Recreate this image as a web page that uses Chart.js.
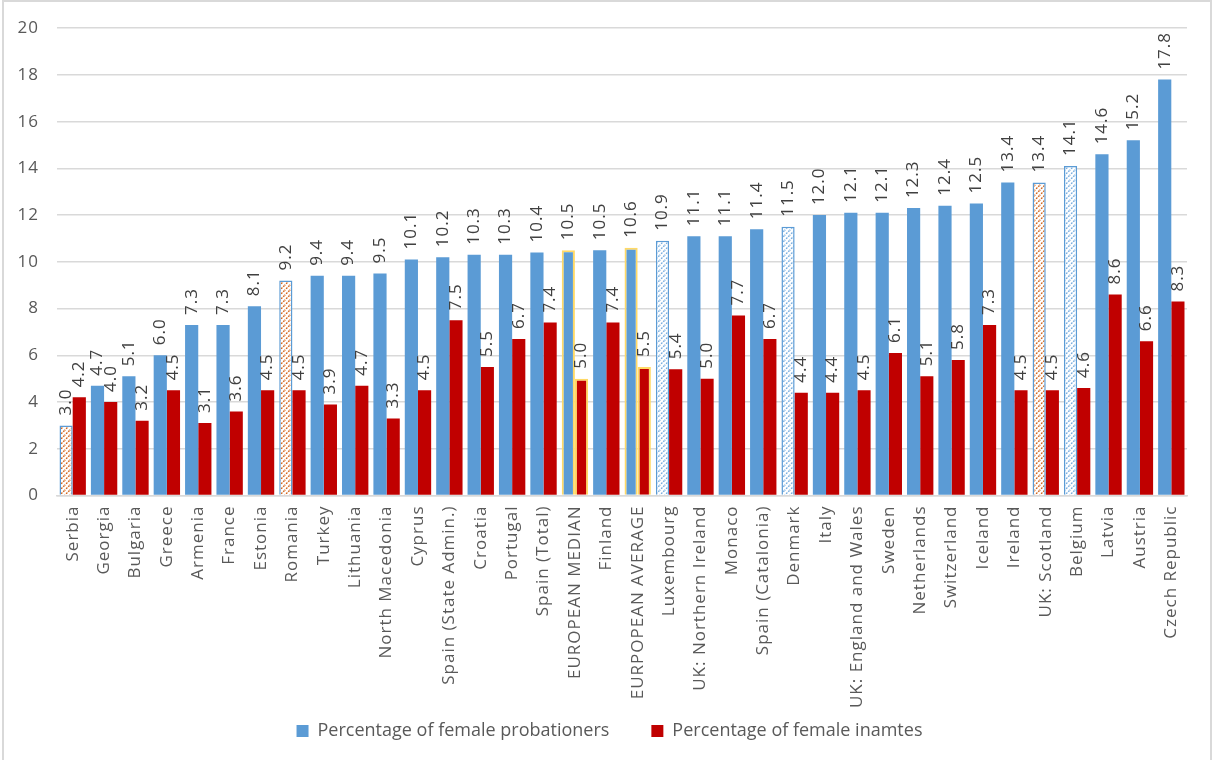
<!DOCTYPE html>
<html>
<head>
<meta charset="utf-8">
<script src="https://cdn.jsdelivr.net/npm/chart.js@4"></script>
<style>
  html, body { margin: 0; padding: 0; background: #ffffff; }
  #wrap { width: 1213px; height: 760px; position: relative; }
</style>
</head>
<body>
<div id="wrap"><canvas id="chart" width="1213" height="760"></canvas></div>
<script>
// Jurisdictions, ordered by share of women among probationers
const categories = [
  'Serbia', 'Georgia', 'Bulgaria', 'Greece', 'Armenia', 'France', 'Estonia',
  'Romania', 'Turkey', 'Lithuania', 'North Macedonia', 'Cyprus',
  'Spain (State Admin.)', 'Croatia', 'Portugal', 'Spain (Total)',
  'EUROPEAN MEDIAN', 'Finland', 'EURPOPEAN AVERAGE', 'Luxembourg',
  'UK: Northern Ireland', 'Monaco', 'Spain (Catalonia)', 'Denmark', 'Italy',
  'UK: England and Wales', 'Sweden', 'Netherlands', 'Switzerland', 'Iceland',
  'Ireland', 'UK: Scotland', 'Belgium', 'Latvia', 'Austria', 'Czech Republic'
];

// Percentage of female probationers
const probationers = [
  3.0, 4.7, 5.1, 6.0, 7.3, 7.3, 8.1,
  9.2, 9.4, 9.4, 9.5, 10.1,
  10.2, 10.3, 10.3, 10.4,
  10.5, 10.5, 10.6, 10.9,
  11.1, 11.1, 11.4, 11.5, 12.0,
  12.1, 12.1, 12.3, 12.4, 12.5,
  13.4, 13.4, 14.1, 14.6, 15.2, 17.8
];

// Percentage of female inmates
const inmates = [
  4.2, 4.0, 3.2, 4.5, 3.1, 3.6, 4.5,
  4.5, 3.9, 4.7, 3.3, 4.5,
  7.5, 5.5, 6.7, 7.4,
  5.0, 7.4, 5.5, 5.4,
  5.0, 7.7, 6.7, 4.4, 4.4,
  4.5, 6.1, 5.1, 5.8, 7.3,
  4.5, 4.5, 4.6, 8.6, 6.6, 8.3
];

const seriesNames = ['Percentage of female probationers', 'Percentage of female inamtes'];

// Value axis ticks
const yMin = 0, yMax = 20, yStep = 2;

// Special bar treatments
const orangeHatched = ['Serbia', 'Romania', 'UK: Scotland'];
const blueHatched = ['Luxembourg', 'Denmark', 'Belgium'];
const referenceRows = ['EUROPEAN MEDIAN', 'EURPOPEAN AVERAGE'];

const BLUE = '#5B9BD5';
const RED = '#C00000';
const GOLD = '#FFD966';
const seriesColors = [BLUE, RED];
const FONT = '"Open Sans", "Noto Sans", sans-serif';
const TEXT_SPACING = '1px';

function hatch(color) {
  const s = 5;
  const c = document.createElement('canvas');
  c.width = s; c.height = s;
  const g = c.getContext('2d');
  g.fillStyle = '#ffffff';
  g.fillRect(0, 0, s, s);
  g.strokeStyle = color;
  g.lineWidth = 1.4;
  g.setLineDash([1.8, 1.2]);
  g.beginPath();
  g.moveTo(-1, s + 1); g.lineTo(s + 1, -1);
  g.moveTo(-1, 1); g.lineTo(1, -1);
  g.moveTo(s - 1, s + 1); g.lineTo(s + 1, s - 1);
  g.stroke();
  return g.createPattern(c, 'repeat');
}
const orangePattern = hatch('#D2661E');
const bluePattern = hatch('#78AEE0');

// Rotated value labels above each bar
const valueLabels = {
  id: 'valueLabels',
  afterDatasetsDraw(chart) {
    const ctx = chart.ctx;
    ctx.save();
    ctx.fillStyle = '#404040';
    ctx.font = '17px ' + FONT;
    ctx.textAlign = 'left';
    ctx.textBaseline = 'middle';
    chart.data.datasets.forEach((ds, i) => {
      chart.getDatasetMeta(i).data.forEach((bar, j) => {
        ctx.save();
        ctx.translate(bar.x, bar.y - 10);
        ctx.rotate(-Math.PI / 2);
        ctx.fillText(ds.data[j].toFixed(1), 0, 0);
        ctx.restore();
      });
    });
    ctx.restore();
  }
};

// Light frame round the chart; looser tracking for axis and value text
const frame = {
  id: 'frame',
  afterLayout(chart) {
    // let the long category names run down past the axis box
    chart.scales.x.bottom = chart.height;
    const lg = chart.legend;
    lg.left += 16; lg.right += 16;
    if (!lg._plainDraw) {
      const plain = lg.draw.bind(lg);
      lg._plainDraw = true;
      lg.draw = function () {
        const ctx = chart.ctx;
        const prev = ctx.letterSpacing;
        ctx.letterSpacing = '0px';
        plain();
        ctx.letterSpacing = prev;
      };
    }
  },
  beforeDraw(chart) {
    const ctx = chart.ctx;
    ctx.save();
    ctx.fillStyle = '#ffffff';
    ctx.fillRect(0, 0, chart.width, chart.height);
    ctx.strokeStyle = '#d9d9d9';
    ctx.lineWidth = 2;
    ctx.beginPath();
    ctx.moveTo(3, chart.height + 2);
    ctx.lineTo(3, 1);
    ctx.lineTo(1211, 1);
    ctx.lineTo(1211, chart.height + 2);
    ctx.stroke();
    ctx.restore();
    ctx.letterSpacing = TEXT_SPACING;
  },
  afterDraw(chart) {
    chart.ctx.letterSpacing = '0px';
  }
};

const blueFill = c => {
  const name = categories[c.dataIndex];
  if (orangeHatched.includes(name)) return orangePattern;
  if (blueHatched.includes(name)) return bluePattern;
  return BLUE;
};
const blueBorderColor = c =>
  referenceRows.includes(categories[c.dataIndex]) ? GOLD : BLUE;
const blueBorderWidth = c => {
  const name = categories[c.dataIndex];
  if (referenceRows.includes(name)) return 2;
  if (orangeHatched.includes(name) || blueHatched.includes(name)) return 1.5;
  return 0;
};
const redBorderWidth = c => referenceRows.includes(categories[c.dataIndex]) ? 2 : 0;

const plotTop = 24.5, plotBottom = 495.5, plotLeft = 57, padBottom = 10;

new Chart(document.getElementById('chart'), {
  type: 'bar',
  data: {
    labels: categories,
    datasets: [
      {
        label: seriesNames[0],
        data: probationers,
        backgroundColor: blueFill,
        borderColor: blueBorderColor,
        borderWidth: blueBorderWidth,
        categoryPercentage: 0.84,
        barPercentage: 1.0
      },
      {
        label: seriesNames[1],
        data: inmates,
        backgroundColor: RED,
        borderColor: GOLD,
        borderWidth: redBorderWidth,
        categoryPercentage: 0.84,
        barPercentage: 1.0
      }
    ]
  },
  options: {
    responsive: false,
    animation: false,
    devicePixelRatio: 1,
    layout: { padding: { top: plotTop, right: 26, left: 0, bottom: padBottom } },
    plugins: {
      legend: {
        position: 'bottom',
        labels: {
          boxWidth: 12,
          boxHeight: 12,
          padding: 42,
          color: '#595959',
          font: { family: FONT, size: 18 },
          generateLabels(chart) {
            const items = Chart.defaults.plugins.legend.labels.generateLabels(chart);
            items.forEach((it, i) => {
              it.fillStyle = seriesColors[i];
              it.strokeStyle = seriesColors[i];
              it.lineWidth = 0;
            });
            return items;
          }
        }
      },
      tooltip: { enabled: false }
    },
    scales: {
      x: {
        grid: { display: false, drawTicks: false },
        border: { display: true, color: '#d9d9d9', width: 1.5 },
        ticks: {
          autoSkip: false,
          maxRotation: 90,
          minRotation: 90,
          padding: 10,
          color: '#595959',
          font: { family: FONT, size: 17 }
        },
        afterFit(s) {
          s.height = s.chart.height - padBottom - s.chart.legend.height - plotBottom;
        }
      },
      y: {
        min: yMin,
        max: yMax,
        ticks: {
          stepSize: yStep,
          padding: 18,
          color: '#595959',
          font: { family: FONT, size: 17 }
        },
        grid: { color: '#d9d9d9', lineWidth: 1.5, drawTicks: false },
        border: { display: false },
        afterFit(s) { s.width = plotLeft; }
      }
    }
  },
  plugins: [valueLabels, frame]
});
</script>
</body>
</html>
